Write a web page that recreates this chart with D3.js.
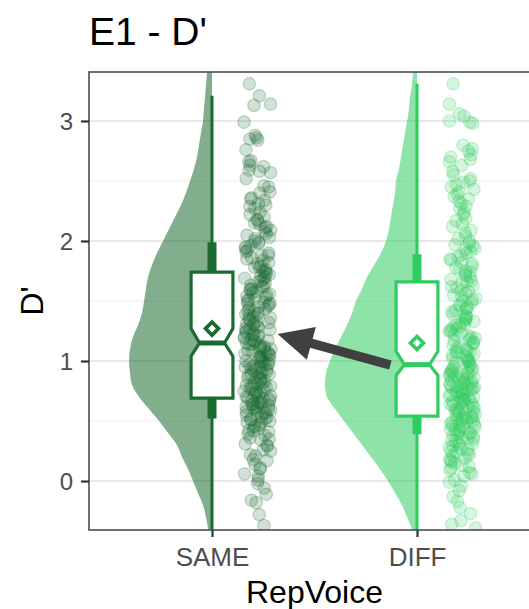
<!DOCTYPE html>
<html>
<head>
<meta charset="utf-8">
<script src="https://cdn.jsdelivr.net/npm/d3@7"></script>
<style>
  body { margin: 0; background: #fff; }
  svg { display: block; }
  text { font-family: "Liberation Sans", Arial, Helvetica, sans-serif; }
</style>
</head>
<body>
<svg id="chart" width="529" height="609"></svg>
<script>
// ---- data ----
const categories = ["SAME", "DIFF"];
const yTicks = [0, 1, 2, 3];
const yMinorTicks = [0.5, 1.5, 2.5];

// individual D' scores per condition
const sameValues = [
  -0.37, -0.28, -0.18, -0.16, -0.11, -0.06, -0.02, 0.01, 0.04,
  0.06, 0.10, 0.11, 0.14,
  0.17, 0.18, 0.21, 0.22, 0.25,
  0.26, 0.29, 0.30, 0.31, 0.34, 0.35,
  0.36, 0.38, 0.39, 0.41, 0.42, 0.42, 0.44, 0.45,
  0.46, 0.47, 0.49, 0.49, 0.50, 0.51, 0.52, 0.52, 0.53, 0.54, 0.55,
  0.56, 0.57, 0.57, 0.58, 0.59, 0.59, 0.60, 0.61, 0.61, 0.62,
  0.62, 0.63, 0.64, 0.64, 0.65, 0.66, 0.66, 0.67, 0.67, 0.68, 0.69, 0.69,
  0.70, 0.71, 0.71, 0.72, 0.73, 0.74, 0.74,
  0.75, 0.76, 0.77, 0.77, 0.78, 0.79, 0.79, 0.80, 0.81, 0.82, 0.82, 0.83, 0.84, 0.85,
  0.86, 0.86, 0.87, 0.88, 0.89, 0.89, 0.90, 0.91, 0.91, 0.92, 0.93, 0.93, 0.94, 0.95, 0.95,
  0.96, 0.97, 0.97, 0.98, 0.99, 0.99, 1.00, 1.01, 1.01, 1.02, 1.03, 1.03, 1.04, 1.05, 1.05,
  1.06, 1.07, 1.07, 1.08, 1.09, 1.10, 1.10, 1.11, 1.12, 1.12, 1.13, 1.14, 1.14, 1.15,
  1.16, 1.17, 1.17, 1.18, 1.19, 1.20, 1.21, 1.21, 1.22, 1.23, 1.24, 1.25,
  1.26, 1.27, 1.27, 1.28, 1.29, 1.30, 1.31, 1.31, 1.32, 1.33, 1.34, 1.35,
  1.36, 1.37, 1.38, 1.39, 1.39, 1.40, 1.41, 1.42, 1.43, 1.44, 1.45,
  1.46, 1.47, 1.48, 1.48, 1.49, 1.50, 1.51, 1.52, 1.53, 1.54, 1.55,
  1.56, 1.57, 1.58, 1.59, 1.60, 1.60, 1.62, 1.62, 1.63, 1.65,
  1.66, 1.67, 1.68, 1.69, 1.70, 1.71, 1.72, 1.73, 1.74,
  1.75, 1.76, 1.78, 1.78, 1.79, 1.81, 1.82, 1.84, 1.85,
  1.86, 1.88, 1.88, 1.90, 1.91, 1.92, 1.94, 1.95,
  1.96, 1.98, 1.99, 2.00, 2.02, 2.03, 2.05,
  2.06, 2.08, 2.09, 2.11, 2.12, 2.14, 2.15,
  2.17, 2.18, 2.20, 2.22, 2.24, 2.27,
  2.29, 2.30, 2.31, 2.34, 2.35, 2.36, 2.40, 2.41, 2.45, 2.46, 2.52, 2.57, 2.58, 2.59,
  2.62, 2.63, 2.66, 2.67, 2.76, 2.84, 2.85, 2.86, 2.88, 2.99, 3.13, 3.14, 3.21, 3.31
];

const diffValues = [
  -0.39, -0.36, -0.33, -0.27, -0.22, -0.17, -0.13, -0.08, -0.04, -0.01, 0.01, 0.04,
  0.06, 0.07, 0.09, 0.11, 0.12, 0.13, 0.15,
  0.16, 0.17, 0.18, 0.19, 0.21, 0.22, 0.23, 0.24, 0.25,
  0.26, 0.27, 0.28, 0.29, 0.30, 0.31, 0.32, 0.33, 0.34, 0.35,
  0.36, 0.36, 0.37, 0.38, 0.39, 0.40, 0.40, 0.41, 0.42, 0.43, 0.43, 0.44, 0.45,
  0.46, 0.46, 0.47, 0.48, 0.48, 0.49, 0.50, 0.50, 0.51, 0.52, 0.52, 0.53, 0.53, 0.54,
  0.55, 0.56, 0.56, 0.57, 0.58, 0.58, 0.59, 0.60, 0.61, 0.61, 0.62, 0.63, 0.63, 0.64, 0.65,
  0.66, 0.66, 0.67, 0.67, 0.68, 0.69, 0.69, 0.70, 0.71, 0.71, 0.72, 0.72, 0.73, 0.74, 0.74, 0.75,
  0.76, 0.76, 0.77, 0.77, 0.78, 0.78, 0.79, 0.80, 0.80, 0.81, 0.81, 0.82, 0.83, 0.83, 0.84, 0.84, 0.85,
  0.86, 0.86, 0.87, 0.88, 0.88, 0.89, 0.90, 0.90, 0.91, 0.92, 0.92, 0.93, 0.94, 0.94, 0.95, 0.96, 0.97,
  0.98, 0.99, 1.00, 1.00, 1.01, 1.02, 1.03, 1.04, 1.05,
  1.06, 1.07, 1.07, 1.08, 1.09, 1.10, 1.11, 1.12, 1.13, 1.14, 1.15,
  1.16, 1.17, 1.18, 1.19, 1.20, 1.21, 1.22, 1.23, 1.24, 1.25,
  1.26, 1.27, 1.28, 1.29, 1.30, 1.31, 1.32, 1.33, 1.34, 1.35,
  1.36, 1.37, 1.38, 1.39, 1.41, 1.42, 1.43, 1.44, 1.45,
  1.46, 1.47, 1.49, 1.50, 1.51, 1.52, 1.54, 1.55,
  1.56, 1.58, 1.59, 1.61, 1.62, 1.63, 1.65, 1.66,
  1.67, 1.68, 1.70, 1.71, 1.72, 1.74, 1.75, 1.76, 1.78, 1.79,
  1.81, 1.82, 1.84, 1.85, 1.87, 1.88, 1.90,
  1.91, 1.93, 1.94, 1.96, 1.97, 1.98, 2.00,
  2.02, 2.04, 2.07, 2.09, 2.12, 2.14, 2.17, 2.19, 2.22, 2.24, 2.27, 2.29,
  2.31, 2.33, 2.35, 2.37, 2.39, 2.41, 2.43, 2.45, 2.47, 2.49,
  2.50, 2.52, 2.55, 2.58, 2.63, 2.66, 2.68, 2.70, 2.72, 2.75, 2.77, 2.80,
  2.98, 2.99, 3.00, 3.04, 3.06, 3.14, 3.31
];

// smoothed density of each condition, evaluated on a D' grid
const densityGrid = [
  -0.5, -0.4, -0.3, -0.2, -0.1, 0.0, 0.1, 0.2, 0.3, 0.4, 0.5, 0.6, 0.7, 0.8, 0.9, 1.0,
  1.1, 1.2, 1.3, 1.4, 1.5, 1.6, 1.7, 1.8, 1.9, 2.0, 2.1, 2.2, 2.3, 2.4, 2.5, 2.6,
  2.7, 2.8, 2.9, 3.0, 3.1, 3.2, 3.3, 3.4, 3.5
];
const sameDensity = [
  0.019, 0.025, 0.038, 0.057, 0.089, 0.120, 0.152, 0.190, 0.222, 0.278, 0.335, 0.399, 0.462, 0.506, 0.519, 0.525,
  0.519, 0.500, 0.468, 0.443, 0.430, 0.418, 0.405, 0.380, 0.348, 0.310, 0.272, 0.234, 0.196, 0.165, 0.139, 0.114,
  0.095, 0.082, 0.070, 0.057, 0.051, 0.044, 0.038, 0.032, 0.025
];
const diffDensity = [
  0.019, 0.032, 0.063, 0.095, 0.139, 0.184, 0.234, 0.291, 0.348, 0.405, 0.462, 0.519, 0.570, 0.582, 0.576, 0.551,
  0.519, 0.481, 0.443, 0.411, 0.386, 0.348, 0.316, 0.272, 0.228, 0.196, 0.177, 0.165, 0.152, 0.139, 0.133, 0.114,
  0.101, 0.089, 0.076, 0.063, 0.051, 0.044, 0.032, 0.025, 0.019
];

// summary statistics, one entry per category (SAME, DIFF)
const boxQ1 = [0.69, 0.54];
const boxMedian = [1.15, 0.97];
const boxQ3 = [1.74, 1.66];
const notchLow = [1.04, 0.88];
const notchHigh = [1.27, 1.08];
const whiskerLow = [-0.45, -0.45];
const whiskerHigh = [3.21, 3.31];
const interval66Low = [0.52, 0.39];
const interval66High = [1.99, 1.89];
const groupMeans = [1.27, 1.15];

// arrow from the DIFF condition back to SAME: [category position, D']
const arrowFrom = [1.87, 0.967];
const arrowTo = [1.32, 1.225];

// ---- layout ----
const colors = ["#1b6b30", "#30cc60"];
const panel = { left: 89, right: 540, top: 72, bottom: 530 };

const svg = d3.select("#chart");

const x = d3.scalePoint()
  .domain(categories)
  .range([panel.left, panel.right])
  .padding(0.6);
const step = x.step();
// continuous position on the discrete axis (1 = first category)
const xc = v => x(categories[0]) + (v - 1) * step;

const y = d3.scaleLinear()
  .domain([-0.408, 3.408])
  .range([panel.bottom, panel.top]);

const densityPx = d3.scaleLinear().domain([0, 1]).range([0, 158]);

// clip everything drawn inside the panel
svg.append("defs").append("clipPath").attr("id", "panel-clip")
  .append("rect")
  .attr("x", panel.left).attr("y", panel.top)
  .attr("width", panel.right - panel.left)
  .attr("height", panel.bottom - panel.top);

// background grid
const grid = svg.append("g");
grid.selectAll("line.minor").data(yMinorTicks).join("line")
  .attr("x1", panel.left).attr("x2", panel.right)
  .attr("y1", d => y(d)).attr("y2", d => y(d))
  .attr("stroke", "#f0f0f0").attr("stroke-width", 1.2);
grid.selectAll("line.major").data(yTicks).join("line")
  .attr("x1", panel.left).attr("x2", panel.right)
  .attr("y1", d => y(d)).attr("y2", d => y(d))
  .attr("stroke", "#e8e8e8").attr("stroke-width", 2);

const plot = svg.append("g").attr("clip-path", "url(#panel-clip)");

const groups = categories.map((c, i) => ({
  cat: c, i,
  values: i === 0 ? sameValues : diffValues,
  density: i === 0 ? sameDensity : diffDensity,
  color: colors[i]
}));

// half violins (slab to the left of each category)
groups.forEach(g => {
  const cx = x(g.cat);
  const area = d3.area()
    .curve(d3.curveCatmullRom)
    .y((d, k) => y(densityGrid[k]))
    .x0(cx)
    .x1(d => cx - densityPx(d));
  plot.append("path")
    .datum(g.density)
    .attr("d", area)
    .attr("fill", g.color)
    .attr("fill-opacity", 0.55);
});

// whisker lines and 66% interval bars
groups.forEach(g => {
  const cx = x(g.cat);
  plot.append("line")
    .attr("x1", cx).attr("x2", cx)
    .attr("y1", y(whiskerLow[g.i])).attr("y2", y(whiskerHigh[g.i]))
    .attr("stroke", g.color).attr("stroke-width", 3);
  plot.append("line")
    .attr("x1", cx).attr("x2", cx)
    .attr("y1", y(interval66Low[g.i])).attr("y2", y(interval66High[g.i]))
    .attr("stroke", g.color).attr("stroke-width", 9);
});

// notched boxes
const boxHalf = 0.102 * step;
const notchInset = 0.2 * boxHalf;
groups.forEach(g => {
  const cx = x(g.cat), i = g.i;
  const l = cx - boxHalf, r = cx + boxHalf;
  const li = cx - boxHalf + notchInset * 2, ri = cx + boxHalf - notchInset * 2;
  const pts = [
    [l, y(boxQ3[i])], [r, y(boxQ3[i])],
    [r, y(notchHigh[i])], [ri, y(boxMedian[i])], [r, y(notchLow[i])],
    [r, y(boxQ1[i])], [l, y(boxQ1[i])],
    [l, y(notchLow[i])], [li, y(boxMedian[i])], [l, y(notchHigh[i])]
  ];
  plot.append("path")
    .attr("d", d3.line()(pts) + "Z")
    .attr("fill", "#fff")
    .attr("stroke", g.color)
    .attr("stroke-width", 3.2)
    .attr("stroke-linejoin", "miter");
  plot.append("line")
    .attr("x1", li).attr("x2", ri)
    .attr("y1", y(boxMedian[i])).attr("y2", y(boxMedian[i]))
    .attr("stroke", g.color).attr("stroke-width", 5);
  // mean marker
  const my = y(groupMeans[i]), d = 6.5;
  plot.append("path")
    .attr("d", `M${cx},${my - d}L${cx + d},${my}L${cx},${my + d}L${cx - d},${my}Z`)
    .attr("fill", "#fff")
    .attr("stroke", g.color)
    .attr("stroke-width", 3.6);
});

// jittered raw scores to the right of each box
const pointOffset = 0.222 * step;
const jitter = 0.066 * step;
// deterministic scatter in [-1, 1] for the horizontal jitter
const spread = k => {
  const s = Math.sin((k + 1) * 12.9898 + 78.233) * 43758.5453;
  return (s - Math.floor(s)) * 2 - 1;
};
groups.forEach(g => {
  const cx = x(g.cat) + pointOffset;
  plot.append("g").selectAll("circle")
    .data(g.values)
    .join("circle")
    .attr("cx", (d, k) => cx + spread(k + g.i * 1000) * jitter)
    .attr("cy", d => y(d))
    .attr("r", 6.2)
    .attr("fill", g.color)
    .attr("fill-opacity", 0.2)
    .attr("stroke", g.color)
    .attr("stroke-opacity", 0.25)
    .attr("stroke-width", 1.2);
});

// arrow
{
  const x0 = xc(arrowFrom[0]), y0 = y(arrowFrom[1]);
  const x1 = xc(arrowTo[0]), y1 = y(arrowTo[1]);
  const dx = x1 - x0, dy = y1 - y0, len = Math.hypot(dx, dy);
  const ux = dx / len, uy = dy / len;
  const headLen = 35, headHalf = 17;
  const bx = x1 - ux * headLen, by = y1 - uy * headLen;
  plot.append("line")
    .attr("x1", x0).attr("y1", y0)
    .attr("x2", bx + ux * 2).attr("y2", by + uy * 2)
    .attr("stroke", "#404040").attr("stroke-width", 9.5);
  plot.append("path")
    .attr("d", `M${x1},${y1}L${bx - uy * headHalf},${by + ux * headHalf}L${bx + uy * headHalf},${by - ux * headHalf}Z`)
    .attr("fill", "#404040");
}

// panel border
svg.append("rect")
  .attr("x", panel.left).attr("y", panel.top)
  .attr("width", panel.right - panel.left)
  .attr("height", panel.bottom - panel.top)
  .attr("fill", "none")
  .attr("stroke", "#4d4d4d").attr("stroke-width", 1.6);

// axes
const yAxis = svg.append("g")
  .attr("transform", `translate(${panel.left},0)`)
  .call(d3.axisLeft(y).tickValues(yTicks).tickSize(8).tickPadding(8).tickFormat(d3.format("d")));
yAxis.select(".domain").remove();
yAxis.selectAll(".tick line").attr("stroke", "#333").attr("stroke-width", 2.2);
yAxis.selectAll(".tick text")
  .attr("fill", "#4d4d4d").attr("font-size", 24)
  .attr("dy", "0.36em")
  .style("font-family", "'Liberation Sans', Arial, Helvetica, sans-serif");

const xAxis = svg.append("g")
  .attr("transform", `translate(0,${panel.bottom})`)
  .call(d3.axisBottom(x).tickSize(7).tickPadding(11));
xAxis.select(".domain").remove();
xAxis.selectAll(".tick line").attr("stroke", "#333").attr("stroke-width", 2.2);
xAxis.selectAll(".tick text")
  .attr("fill", "#4d4d4d").attr("font-size", 26)
  .style("font-family", "'Liberation Sans', Arial, Helvetica, sans-serif");

// axis titles and plot title
svg.append("text")
  .attr("x", (panel.left + panel.right) / 2).attr("y", 603)
  .attr("text-anchor", "middle")
  .attr("font-size", 32).attr("fill", "#000")
  .text("RepVoice");

svg.append("text")
  .attr("transform", `translate(43,${(panel.top + panel.bottom) / 2}) rotate(-90)`)
  .attr("text-anchor", "middle")
  .attr("font-size", 32).attr("fill", "#000")
  .text("D'");

svg.append("text")
  .attr("x", panel.left).attr("y", 45)
  .attr("font-size", 39).attr("fill", "#000")
  .text("E1 - D'");
</script>
</body>
</html>
